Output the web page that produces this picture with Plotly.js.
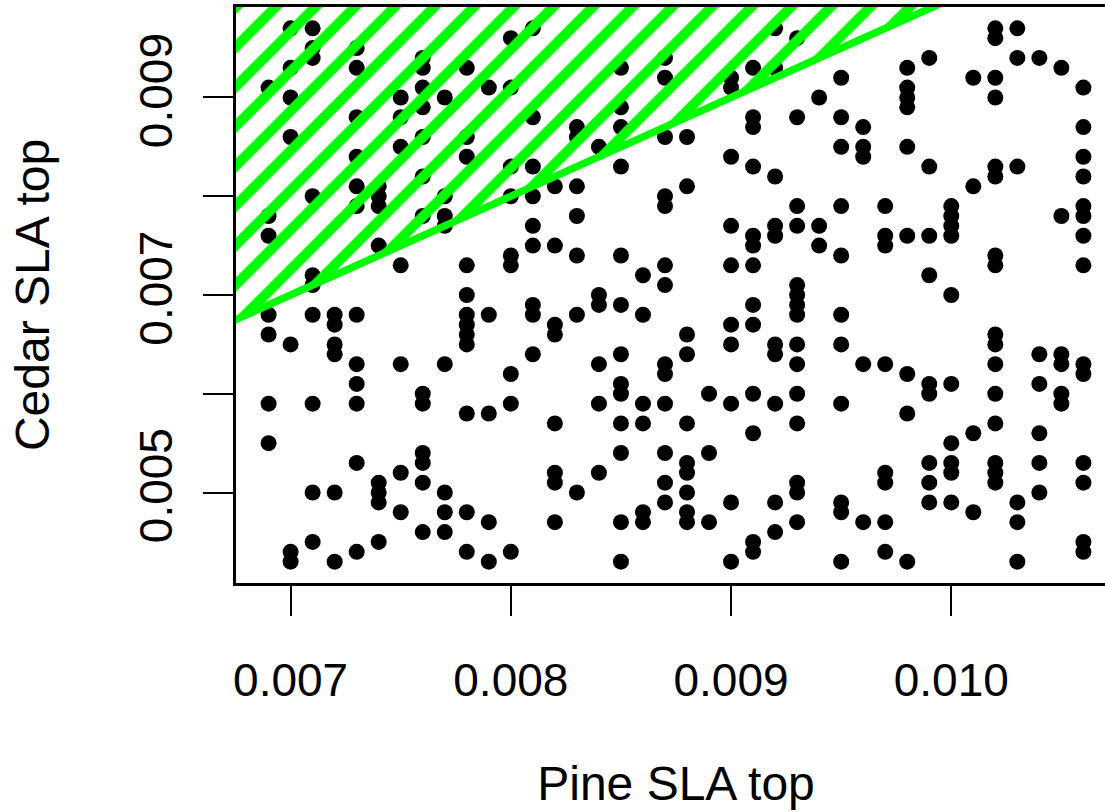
<!DOCTYPE html>
<html>
<head>
<meta charset="utf-8">
<script src="https://cdn.plot.ly/plotly-3.0.1.min.js"></script>
<style>
html, body { margin:0; padding:0; overflow:hidden; background:#ffffff; }
#chart { width:1130px; height:812px; }
</style>
</head>
<body>
<div id="chart"></div>
<script>
// Pine SLA (x) levels and the Cedar SLA (y) values observed at each level
const pineLevels = [0.0069,0.0070,0.0071,0.0072,0.0073,0.0074,0.0075,0.0076,0.0077,0.0078,
                    0.0079,0.0080,0.0081,0.0082,0.0083,0.0084,0.0085,0.0086,0.0087,0.0088,
                    0.0089,0.0090,0.0091,0.0092,0.0093,0.0094,0.0095,0.0096,0.0097,0.0098,
                    0.0099,0.0100,0.0101,0.0102,0.0103,0.0104,0.0105,0.0106];
const cedarByPine = [
  [0.0091,0.0078,0.0076,0.0068,0.0066,0.0059,0.0055],
  [0.0097,0.0093,0.0090,0.0086,0.0065,0.0044,0.0043],
  [0.0097,0.0095,0.0094,0.0080,0.0072,0.0071,0.0068,0.0059,0.0050,0.0045],
  [0.0068,0.0067,0.0065,0.0064,0.0050,0.0043],
  [0.0095,0.0093,0.0088,0.0084,0.0081,0.0079,0.0068,0.0063,0.0061,0.0059,0.0053,0.0044],
  [0.0081,0.0080,0.0079,0.0075,0.0051,0.0050,0.0049,0.0045],
  [0.0090,0.0088,0.0085,0.0073,0.0063,0.0052,0.0048],
  [0.0094,0.0093,0.0091,0.0089,0.0086,0.0082,0.0078,0.0060,0.0059,0.0054,0.0053,0.0051,0.0046],
  [0.0090,0.0080,0.0078,0.0077,0.0063,0.0050,0.0048,0.0046],
  [0.0093,0.0086,0.0084,0.0073,0.0070,0.0068,0.0067,0.0066,0.0065,0.0058,0.0048,0.0044],
  [0.0091,0.0068,0.0058,0.0047,0.0043],
  [0.0096,0.0091,0.0083,0.0080,0.0074,0.0073,0.0062,0.0059,0.0044],
  [0.0097,0.0088,0.0083,0.0080,0.0077,0.0075,0.0069,0.0068,0.0064],
  [0.0081,0.0075,0.0067,0.0066,0.0057,0.0052,0.0051,0.0047],
  [0.0087,0.0086,0.0081,0.0078,0.0074,0.0068,0.0050],
  [0.0085,0.0070,0.0069,0.0063,0.0059,0.0052],
  [0.0093,0.0089,0.0087,0.0083,0.0074,0.0069,0.0064,0.0061,0.0060,0.0057,0.0054,0.0047,0.0043],
  [0.0072,0.0068,0.0059,0.0057,0.0048,0.0047],
  [0.0094,0.0092,0.0086,0.0080,0.0079,0.0073,0.0071,0.0063,0.0062,0.0059,0.0054,0.0051,0.0049],
  [0.0086,0.0081,0.0066,0.0064,0.0057,0.0053,0.0052,0.0050,0.0048,0.0047],
  [0.0060,0.0054,0.0047],
  [0.0092,0.0091,0.0084,0.0077,0.0073,0.0067,0.0065,0.0059,0.0049,0.0043],
  [0.0093,0.0088,0.0087,0.0083,0.0076,0.0075,0.0073,0.0069,0.0067,0.0060,0.0056,0.0045,0.0044],
  [0.0097,0.0093,0.0082,0.0077,0.0076,0.0065,0.0064,0.0059,0.0049,0.0046],
  [0.0096,0.0088,0.0079,0.0077,0.0071,0.0070,0.0069,0.0068,0.0065,0.0063,0.0060,0.0057,0.0051,0.0050,0.0047],
  [0.0090,0.0077,0.0075],
  [0.0092,0.0088,0.0085,0.0079,0.0074,0.0068,0.0065,0.0059,0.0049,0.0048,0.0043],
  [0.0087,0.0085,0.0084,0.0063,0.0047],
  [0.0079,0.0076,0.0075,0.0063,0.0052,0.0051,0.0047,0.0044],
  [0.0093,0.0091,0.0090,0.0089,0.0085,0.0076,0.0062,0.0058,0.0043],
  [0.0094,0.0083,0.0076,0.0072,0.0061,0.0060,0.0053,0.0051,0.0049],
  [0.0079,0.0078,0.0077,0.0076,0.0070,0.0061,0.0055,0.0053,0.0052,0.0049],
  [0.0092,0.0081,0.0056,0.0048],
  [0.0097,0.0096,0.0092,0.0090,0.0083,0.0082,0.0074,0.0073,0.0066,0.0065,0.0063,0.0060,0.0057,0.0053,0.0052,0.0051],
  [0.0097,0.0094,0.0083,0.0049,0.0047,0.0043],
  [0.0094,0.0064,0.0061,0.0056,0.0053,0.0050],
  [0.0093,0.0078,0.0064,0.0063,0.0060,0.0059],
  [0.0091,0.0087,0.0084,0.0082,0.0079,0.0078,0.0076,0.0073,0.0063,0.0062,0.0053,0.0051,0.0045,0.0044]
];

// Region where Cedar SLA exceeds Pine SLA (above the 1:1 line), extends past the axes
const regionPine  = [0.006, 0.011, 0.006];
const regionCedar = [0.006, 0.011, 0.011];

// Axis ticks
const xTickVals = [0.007, 0.008, 0.009, 0.010];
const xTickText = ['0.007', '0.008', '0.009', '0.010'];
const yTickVals = [0.005, 0.006, 0.007, 0.008, 0.009];
const yTickText = ['0.005', '', '0.007', '', '0.009'];

const pineSLA = [];
const cedarSLA = [];
pineLevels.forEach(function (p, i) {
  cedarByPine[i].forEach(function (c) { pineSLA.push(p); cedarSLA.push(c); });
});

function padRange(arr) {
  const lo = Math.min.apply(null, arr), hi = Math.max.apply(null, arr);
  const d = (hi - lo) * 0.04;
  return [lo - d, hi + d];
}

const font = 'Liberation Sans, Arial, Helvetica, sans-serif';
const GREEN = '#00ff00';

const traces = [
  {
    type: 'scatter', mode: 'markers',
    x: pineSLA, y: cedarSLA,
    marker: { color: '#000000', size: 16, line: { width: 0 } },
    hoverinfo: 'skip'
  },
  {
    type: 'scatter', mode: 'lines',
    x: regionPine, y: regionCedar,
    fill: 'toself',
    fillcolor: 'rgba(0,0,0,0)',
    fillpattern: { shape: '/', size: 28.03, solidity: 0.36, fgcolor: GREEN, bgcolor: 'rgba(0,0,0,0)', fgopacity: 1 },
    line: { color: GREEN, width: 7.5 },
    hoverinfo: 'skip'
  }
];

const layout = {
  width: 1130, height: 812,
  margin: { l: 236, r: 14, t: 7, b: 229, pad: 0 },
  paper_bgcolor: '#ffffff', plot_bgcolor: '#ffffff',
  showlegend: false,
  font: { family: font, color: '#000000' },
  xaxis: {
    range: padRange(pineSLA),
    tickmode: 'array', tickvals: xTickVals, ticktext: xTickText,
    ticks: 'outside', ticklen: 30, tickwidth: 2, tickcolor: '#000000',
    ticklabelstandoff: 25,
    tickfont: { family: font, size: 46, color: '#000000' },
    showline: true, linecolor: '#000000', linewidth: 3, mirror: true,
    showgrid: false, zeroline: false, automargin: false,
    title: { text: 'Pine SLA top', font: { family: font, size: 48, color: '#000000' }, standoff: 62 }
  },
  yaxis: {
    range: padRange(cedarSLA),
    tickmode: 'array', tickvals: yTickVals, ticktext: yTickText,
    ticks: 'outside', ticklen: 30, tickwidth: 2, tickcolor: '#000000',
    tickangle: -90,
    ticklabelstandoff: 13,
    tickfont: { family: font, size: 46, color: '#000000' },
    showline: true, linecolor: '#000000', linewidth: 3, mirror: true,
    showgrid: false, zeroline: false, automargin: false,
    title: { text: 'Cedar SLA top', font: { family: font, size: 48, color: '#000000' }, standoff: 65 }
  }
};

Plotly.newPlot('chart', traces, layout, { staticPlot: true, displayModeBar: false });
</script>
</body>
</html>
